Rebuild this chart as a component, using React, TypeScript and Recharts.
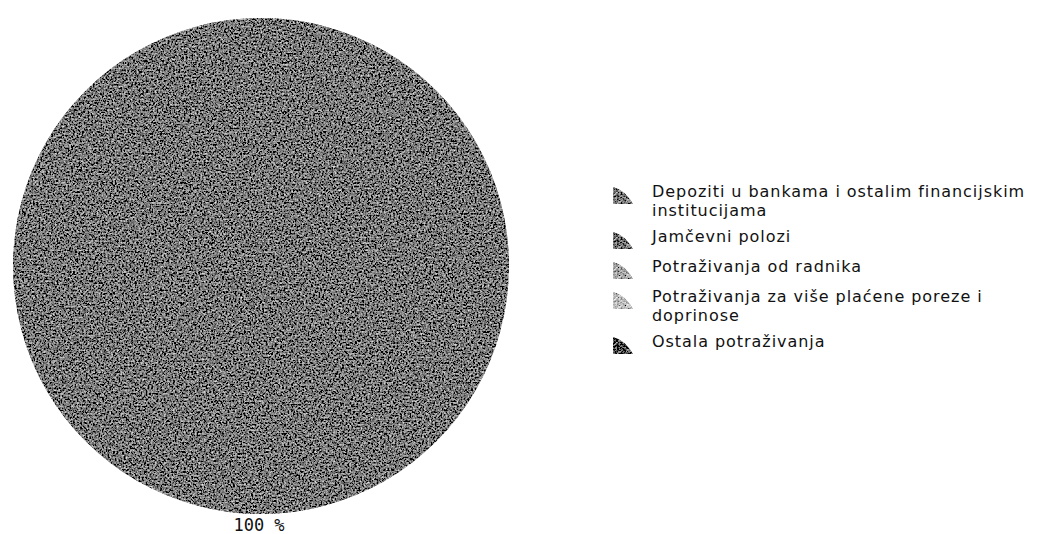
import React from "react";
import { PieChart, Pie, Cell, Legend } from "recharts";

const categories = [
  "Depoziti u bankama i ostalim financijskim institucijama",
  "Jamčevni polozi",
  "Potraživanja od radnika",
  "Potraživanja za više plaćene poreze i doprinose",
  "Ostala potraživanja",
];
const shares = [100, 0, 0, 0, 0];
const colors = ["#7c7c7c", "#747474", "#a8a8a8", "#bebebe", "#4c4c4c"];

const data = categories.map((name, i) => ({ name, value: shares[i] }));

const renderLabel = (props: any) => {
  const { cx, cy, outerRadius, value, midAngle } = props;
  if (!value) return null;
  const RAD = Math.PI / 180;
  const r = outerRadius + 11;
  const x = cx + r * Math.cos(-midAngle * RAD) - 2;
  const y = cy + r * Math.sin(-midAngle * RAD);
  return (
    <text x={x} y={y} textAnchor="middle" dominantBaseline="central" fill="#111" fontSize={17} fontFamily="'DejaVu Sans Mono', monospace">
      {`${value} %`}
    </text>
  );
};

const LegendContent = () => (
  <div style={{ fontFamily: "'DejaVu Sans', sans-serif", fontSize: 16, letterSpacing: "0.95px", color: "#111", width: 425 }}>
    {categories.map((name, i) => (
      <div key={i} style={{ display: "flex", alignItems: "flex-start", marginBottom: 8 }}>
        <svg width={22} height={20} style={{ flex: "0 0 auto", marginTop: 2, marginRight: 18 }}>
          <path d="M1,19 L1,2 Q13,5 21,19 Z" fill={colors[i % colors.length]} filter="url(#grain)" />
        </svg>
        <span style={{ lineHeight: "18.5px", width: 380 }}>{name}</span>
      </div>
    ))}
  </div>
);

export default function App() {
  return (
    <div style={{ position: "relative", width: 1030, height: 526 }}>
      <svg width={0} height={0} style={{ position: "absolute" }}>
        <defs>
          <filter id="grain" x="0" y="0" width="100%" height="100%">
            <feTurbulence type="fractalNoise" baseFrequency="0.55" numOctaves="3" seed="4" result="noise" />
            <feColorMatrix
              in="noise"
              type="matrix"
              values="0.33 0.33 0.33 0 0  0.33 0.33 0.33 0 0  0.33 0.33 0.33 0 0  0 0 0 0 1"
              result="gray"
            />
            <feComposite in="SourceGraphic" in2="gray" operator="arithmetic" k1="0" k2="1" k3="2.4" k4="-1.2" result="mix" />
            <feComposite in="mix" in2="SourceGraphic" operator="in" />
          </filter>
        </defs>
      </svg>
      <PieChart width={1030} height={526}>
        <Pie
          data={data}
          dataKey="value"
          nameKey="name"
          cx={248}
          cy={253}
          outerRadius={248}
          startAngle={90}
          endAngle={450}
          stroke="none"
          filter="url(#grain)"
          label={renderLabel}
          labelLine={false}
          isAnimationActive={false}
        >
          {data.map((d, i) => (
            <Cell key={i} fill={colors[i]} />
          ))}
        </Pie>
        <Legend
          layout="vertical"
          content={<LegendContent />}
          wrapperStyle={{ position: "absolute", left: 604, top: 175, width: 425 }}
        />
      </PieChart>
    </div>
  );
}
